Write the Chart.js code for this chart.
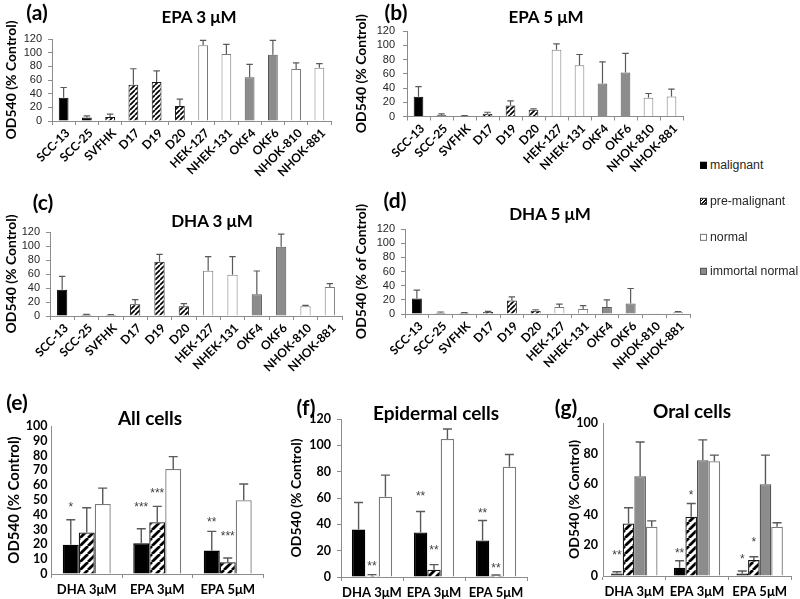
<!DOCTYPE html>
<html><head><meta charset="utf-8">
<script src="https://cdn.jsdelivr.net/npm/chart.js@4"></script>
<style>
body{margin:0;background:#fff;width:800px;height:599px;position:relative;overflow:hidden;font-family:Lato,sans-serif}
canvas{position:absolute}
.t{position:absolute;font-weight:bold;white-space:nowrap;transform:translate(-50%,-50%);color:#000;line-height:1}
.lg{position:absolute;font-family:'Liberation Sans',Arial,sans-serif;font-size:12.3px;color:#262626;white-space:nowrap;transform:translateY(-50%);line-height:1}
.bx{display:inline-block;width:7px;height:7px;margin-right:3px;box-sizing:border-box;vertical-align:0px}
</style></head><body>
<script>
// ---------- DATA ----------
const cellLines = ['SCC-13','SCC-25','SVFHK','D17','D19','D20','HEK-127','NHEK-131','OKF4','OKF6','NHOK-810','NHOK-881'];
const cellTypes = ['malignant','malignant','premalignant','premalignant','premalignant','premalignant','normal','normal','immortal','immortal','normal','normal'];

const epa3Values = [34, 5, 6, 53, 57, 22, 111, 98, 64, 97, 76, 78];
const epa3Errors = [15, 2.5, 4, 23.5, 16.5, 10, 7, 14, 19, 21, 9, 6];
const epa5Values = [27.6, 1.9, 1, 3.7, 15.5, 9.4, 93.7, 72, 46.4, 61.8, 26.2, 28.1];
const epa5Errors = [14.4, 1.8, 0.3, 2.3, 6.5, 1.4, 8.3, 15, 30.4, 26.7, 6.1, 10.3];
const dha3Values = [37.6, 1.9, 1.4, 16.7, 77.6, 13.8, 64.8, 59, 31, 99, 13.8, 41.4];
const dha3Errors = [19, 0.5, 0.5, 6.6, 10.4, 3.8, 20, 25.8, 33.3, 18, 1.4, 4.8];
const dha5Values = [22, 1.9, 1.4, 2.8, 19.2, 4.7, 9.8, 7, 9.8, 15, 0.5, 2.3];
const dha5Errors = [11.6, 0.9, 0.5, 0.9, 5.1, 1.3, 4.2, 4.7, 10.2, 21, 0, 1];

const treatments = ['DHA 3μM','EPA 3μM','EPA 5μM'];

// (e) All cells
const allMalignant = [19.8, 20.7, 15.8];
const allMalignantErr = [16.9, 9.9, 13];
const allMalignantStars = ['*','***','**'];
const allMalignantStarAt = [47, 47, 37];
const allPremalignant = [28, 35, 7.9];
const allPremalignantErr = [16.8, 10.7, 2.9];
const allPremalignantStars = ['','***','***'];
const allPremalignantStarAt = [0, 56, 27];
const allNormal = [47.3, 71, 49.8];
const allNormalErr = [10.7, 8.3, 11];

// (f) Epidermal cells
const epiMalignant = [36, 33.8, 27.7];
const epiMalignantErr = [20.6, 15.9, 15.2];
const epiMalignantStars = ['','**','**'];
const epiMalignantStarAt = [0, 63.5, 50];
const epiPremalignant = [1, 5.6, 1];
const epiPremalignantErr = [0.8, 3.8, 0.5];
const epiPremalignantStars = ['**','**','**'];
const epiPremalignantStarAt = [10, 22.3, 8.9];
const epiNormal = [61, 104.8, 83.8];
const epiNormalErr = [16.4, 7.6, 9.2];

// (g) Oral cells
const oralMalignant = [1.7, 5.4, 1.7];
const oralMalignantErr = [1.1, 4.6, 1.6];
const oralMalignantStars = ['**','**','*'];
const oralMalignantStarAt = [15.4, 16.5, 12.6];
const oralPremalignant = [34.3, 38.7, 10.4];
const oralPremalignantErr = [10.3, 8.7, 2.2];
const oralPremalignantStars = ['','*','*'];
const oralPremalignantStarAt = [0, 54.3, 24];
const oralImmortal = [65.2, 75.7, 60];
const oralImmortalErr = [22.4, 13.3, 19];
const oralNormal = [32.2, 75, 32.2];
const oralNormalErr = [3.8, 4, 2.6];

// ---------- STYLE HELPERS ----------
function hatch(p, w){
  const c=document.createElement('canvas'); c.width=p; c.height=p;
  const x=c.getContext('2d'); x.fillStyle='#fff'; x.fillRect(0,0,p,p);
  x.strokeStyle='#000'; x.lineWidth=w; x.beginPath();
  for(const k of [-p,0,p]){ x.moveTo(k,p); x.lineTo(k+p,0); }
  x.stroke();
  return x.createPattern(c,'repeat');
}
const smallHatch = hatch(5, 1.7);
const largeHatch = hatch(8, 2.8);
function fillFor(type, pat){
  return {malignant:'#000000', premalignant:pat, normal:'#ffffff', immortal:'#8c8c8c'}[type];
}
function borderFor(type){
  return {malignant:'#000000', premalignant:'#1a1a1a', normal:'#7a7a7a', immortal:'#555555'}[type];
}

const errorBarPlugin = {
  id:'errbars',
  afterDatasetsDraw(chart){
    const ctx=chart.ctx, ys=chart.scales.y;
    chart.data.datasets.forEach((ds,di)=>{
      const meta=chart.getDatasetMeta(di);
      meta.data.forEach((el,i)=>{
        if(ds.errors && ds.errors[i]>0){
          const yTop=ys.getPixelForValue(ds.data[i]+ds.errors[i]);
          const cap=ds.errCap||3;
          ctx.save(); ctx.strokeStyle='#595959'; ctx.lineWidth=ds.errWidth||1.2;
          ctx.beginPath(); ctx.moveTo(el.x,el.y); ctx.lineTo(el.x,yTop);
          ctx.moveTo(el.x-cap,yTop); ctx.lineTo(el.x+cap,yTop); ctx.stroke(); ctx.restore();
        }
        if(ds.stars && ds.stars[i]){
          ctx.save(); ctx.fillStyle='#404040'; ctx.font='12px "Liberation Sans", Arial';
          ctx.textAlign='center'; ctx.textBaseline='middle';
          ctx.fillText(ds.stars[i], el.x, ys.getPixelForValue(ds.starAt[i])+3);
          ctx.restore();
        }
      });
    });
  }
};

function panel(box, area, cfg){
  const c=document.createElement('canvas');
  c.width=box.w; c.height=box.h; c.style.left=box.l+'px'; c.style.top=box.t+'px';
  document.body.appendChild(c);
  const yW=area.l-box.l, xH=box.t+box.h-area.b;
  return new Chart(c,{
    type:'bar',
    data:{labels:cfg.labels, datasets:cfg.datasets},
    options:{
      responsive:false, animation:false, devicePixelRatio:1,
      layout:{padding:{left:0, top:area.t-box.t, right:box.l+box.w-area.r, bottom:0}},
      plugins:{legend:{display:false}, tooltip:{enabled:false}, title:{display:false}},
      scales:{
        x:{
          offset:true,
          grid:{display:true, drawOnChartArea:false, drawTicks:true, tickLength:cfg.xTick, color:'#8c8c8c', offset:true},
          border:{color:'#8c8c8c', width:1},
          ticks:{autoSkip:false, maxRotation:cfg.rot, minRotation:cfg.rot, padding:cfg.xPad, labelOffset:cfg.xOff||0, color:'#000', font:cfg.xFont},
          afterFit(s){ s.height=xH; s.paddingLeft=0; s.paddingRight=0; }
        },
        y:{
          min:0, max:cfg.max,
          grid:{display:true, drawOnChartArea:false, drawTicks:cfg.yTick>0, tickLength:cfg.yTick, color:'#8c8c8c'},
          border:{color:'#8c8c8c', width:1},
          ticks:{stepSize:cfg.step, autoSkip:false, padding:cfg.yPad, color:cfg.yColor, font:cfg.yFont},
          title:{display:true, text:cfg.yTitle, color:'#000', font:cfg.yTitleFont, padding:{top:cfg.yTitlePad, bottom:0}},
          afterFit(s){ s.width=yW; s.paddingTop=0; s.paddingBottom=0; }
        }
      }
    },
    plugins:[errorBarPlugin]
  });
}

function cellPanel(box, area, values, errors, yTitle, yTitlePad, yPad){
  panel(box, area, {
    labels:cellLines,
    datasets:[{
      data:values, errors:errors, errCap:3.2, errWidth:1.2,
      backgroundColor:cellTypes.map(t=>fillFor(t,smallHatch)),
      borderColor:cellTypes.map(borderFor), borderWidth:1,
      barPercentage:0.42, categoryPercentage:1
    }],
    max:120, step:20, rot:45, xTick:4, xPad:1, xOff:4,
    xFont:{family:'Lato', weight:'bold', size:12},
    yTick:4, yPad:yPad, yColor:'#262626', yFont:{family:'"Liberation Sans", Arial', size:11},
    yTitle:yTitle, yTitlePad:yTitlePad, yTitleFont:{family:'Lato', weight:'bold', size:14}
  });
}

cellPanel({l:0,t:0,w:345,h:180},   {l:52,r:331,t:39,b:121},   epa3Values, epa3Errors, 'OD540 (% Control)', 3.5, 6);
cellPanel({l:345,t:0,w:350,h:180}, {l:407,r:683,t:31,b:116.5}, epa5Values, epa5Errors, 'OD540 (% Control)', 8.5, 8);
cellPanel({l:0,t:190,w:350,h:185}, {l:50,r:342,t:232,b:316}, dha3Values, dha3Errors, 'OD540 (% Control)', 3.5, 6);
cellPanel({l:345,t:190,w:355,h:185}, {l:405,r:690,t:229,b:314}, dha5Values, dha5Errors, 'OD540 (% of Control)', 8.5, 6);

function ds(type, data, errs, stars, starAt, cp){
  return {data:data, errors:errs, stars:stars, starAt:starAt, errCap:4.5, errWidth:1.4,
    backgroundColor:fillFor(type,largeHatch), borderColor:borderFor(type), borderWidth:1.3,
    barPercentage:1, categoryPercentage:cp};
}
function groupPanel(box, area, datasets, max, step, yTitleSize, yTitlePad, yTick, yPad){
  panel(box, area, {
    labels:treatments, datasets:datasets,
    max:max, step:step, rot:0, xTick:4, xPad:4,
    xFont:{family:'Lato', weight:'bold', size:13},
    yTick:yTick, yPad:yPad, yColor:'#000', yFont:{family:'Lato', weight:'bold', size:12.5},
    yTitle:'OD540 (% Control)', yTitlePad:yTitlePad, yTitleFont:{family:'Lato', weight:'bold', size:yTitleSize}
  });
}

groupPanel({l:0,t:410,w:275,h:189}, {l:51.5,r:263,t:426,b:574}, [
  ds('malignant', allMalignant, allMalignantErr, allMalignantStars, allMalignantStarAt, 0.68),
  ds('premalignant', allPremalignant, allPremalignantErr, allPremalignantStars, allPremalignantStarAt, 0.68),
  ds('normal', allNormal, allNormalErr, null, null, 0.68)
], 100, 10, 15, 5.5, 0, 4);

groupPanel({l:275,t:410,w:270,h:189}, {l:341,r:527,t:419,b:577}, [
  ds('malignant', epiMalignant, epiMalignantErr, epiMalignantStars, epiMalignantStarAt, 0.65),
  ds('premalignant', epiPremalignant, epiPremalignantErr, epiPremalignantStars, epiPremalignantStarAt, 0.65),
  ds('normal', epiNormal, epiNormalErr, null, null, 0.65)
], 120, 20, 14, 13, 4, 6);

groupPanel({l:545,t:410,w:255,h:189}, {l:603,r:791,t:423,b:576}, [
  ds('malignant', oralMalignant, oralMalignantErr, oralMalignantStars, oralMalignantStarAt, 0.74),
  ds('premalignant', oralPremalignant, oralPremalignantErr, oralPremalignantStars, oralPremalignantStarAt, 0.74),
  ds('immortal', oralImmortal, oralImmortalErr, null, null, 0.74),
  ds('normal', oralNormal, oralNormalErr, null, null, 0.74)
], 100, 20, 14, 21, 0, 5);

// ---------- TEXT ----------
function txt(s, x, y, size){
  const d=document.createElement('div'); d.className='t'; d.textContent=s;
  d.style.left=x+'px'; d.style.top=y+'px'; d.style.fontSize=size+'px';
  document.body.appendChild(d);
}
txt('EPA 3 μM',199,16,17); txt('EPA 5 μM',546,16,17);
txt('DHA 3 μM',212,220,17); txt('DHA 5 μM',550,213,17);
txt('All cells',150,417,19); txt('Epidermal cells',436,412,19); txt('Oral cells',692,410,19);
txt('(a)',37,11,21); txt('(b)',396,11,21); txt('(c)',43,201,21); txt('(d)',395,199,21);
txt('(e)',17,401,21); txt('(f)',306,406,21); txt('(g)',566,406,21);

const legendItems = [
  ['malignant','background:#000;border:1px solid #000'],
  ['pre-malignant','background:repeating-linear-gradient(135deg,#fff 0 1px,#000 1px 2.2px);border:1px solid #222'],
  ['normal','background:#fff;border:1px solid #777'],
  ['immortal normal','background:#8c8c8c;border:1px solid #555']
];
const legendY=[165,201,236.5,270.5];
legendItems.forEach((it,i)=>{
  const d=document.createElement('div'); d.className='lg';
  d.style.left='700px'; d.style.top=legendY[i]+'px';
  d.innerHTML='<span class="bx" style="'+it[1]+'"></span>'; 
  d.appendChild(document.createTextNode(it[0]));
  document.body.appendChild(d);
});
</script>
</body></html>
